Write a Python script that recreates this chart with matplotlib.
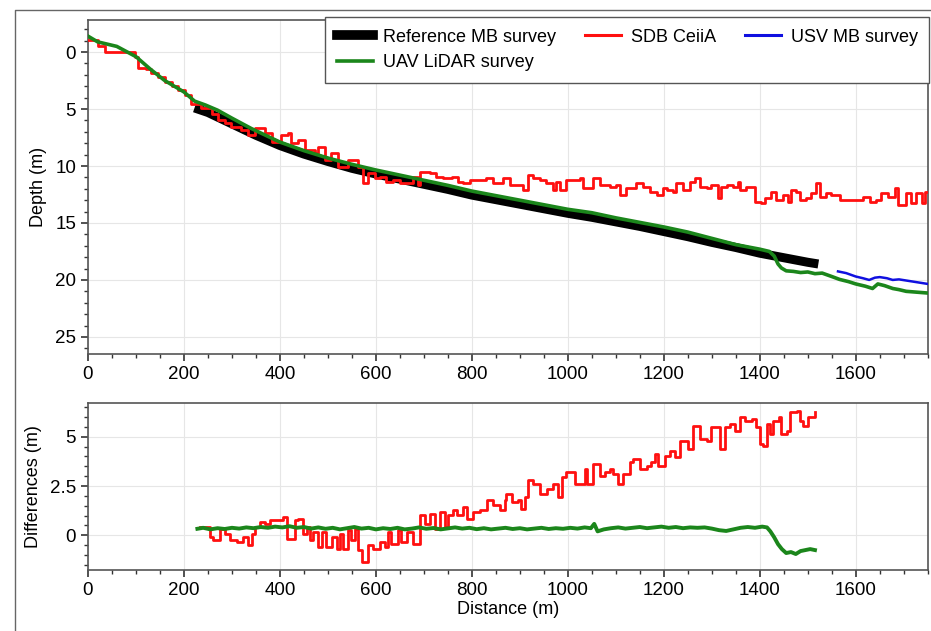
"""Depth profile comparison: reference MB vs SDB, USV and UAV LiDAR surveys."""
import matplotlib
matplotlib.use("Agg")
import matplotlib.pyplot as plt
from matplotlib import ticker
from matplotlib.lines import Line2D

plt.rcParams["font.family"] = ["Liberation Sans", "DejaVu Sans"]
plt.rcParams["font.size"] = 13

# ---- top panel: depth profiles (m) ----
ref_x = [222, 250, 300, 350, 400, 450, 500, 550, 600, 650, 700, 750, 800, 850,
         900, 950, 1000, 1050, 1100, 1150, 1200, 1250, 1300, 1350, 1400, 1450,
         1500, 1522]
ref_depth = [4.9, 5.3, 6.3, 7.3, 8.2, 8.95, 9.6, 10.2, 10.7, 11.15, 11.6, 12.05,
             12.55, 12.95, 13.35, 13.75, 14.15, 14.5, 14.9, 15.3, 15.75, 16.2,
             16.7, 17.15, 17.65, 18.05, 18.45, 18.6]

sdb_x = [0, 20, 35, 63, 98, 105, 120, 132, 145, 160, 175, 188, 202, 215, 235,
         258, 271, 285, 299, 318, 334, 348, 368, 383, 403, 417, 424, 438, 452,
         473, 480, 494, 507, 521, 542, 563, 573, 584, 598, 608, 622, 636, 650,
         664, 678, 688, 692, 712, 726, 740, 758, 771, 782, 796, 817, 830, 844,
         865, 879, 900, 907, 917, 928, 942, 955, 969, 976, 983, 997, 1025, 1032,
         1053, 1067, 1087, 1101, 1108, 1122, 1143, 1157, 1171, 1185, 1199, 1206,
         1219, 1226, 1240, 1254, 1265, 1275, 1289, 1299, 1313, 1320, 1331, 1344,
         1355, 1358, 1372, 1389, 1403, 1410, 1424, 1434, 1449, 1459, 1466, 1476,
         1483, 1497, 1507, 1518, 1525, 1539, 1549, 1567, 1584, 1601, 1615, 1629,
         1643, 1653, 1667, 1681, 1688, 1702, 1705, 1716, 1726, 1737, 1744, 1750]
sdb_depth = [-1.05, -0.5, -0.03, 0.0, 0.4, 1.4, 1.5, 1.87, 2.2, 2.6, 3.0, 3.3,
             3.8, 4.6, 4.95, 5.4, 6.0, 6.2, 6.55, 6.84, 7.28, 6.7, 7.13, 7.87,
             7.28, 7.13, 8.0, 7.72, 8.6, 8.9, 8.3, 9.47, 8.9, 10.06, 9.47, 10.06,
             11.5, 10.64, 11.08, 10.93, 11.37, 11.23, 11.52, 11.52, 10.93, 11.67,
             10.5, 10.64, 10.93, 11.08, 10.93, 11.37, 11.52, 11.23, 11.23, 11.08,
             11.52, 11.08, 11.67, 11.67, 12.1, 10.79, 11.08, 11.23, 11.52, 12.1,
             11.37, 12.1, 11.23, 11.08, 11.96, 11.08, 11.67, 11.81, 11.67, 12.54,
             11.96, 11.52, 11.81, 12.25, 12.54, 11.96, 12.1, 12.25, 11.52, 12.1,
             11.37, 11.08, 11.8, 11.95, 11.67, 12.84, 11.8, 11.67, 11.8, 11.37,
             12.1, 11.8, 13.13, 13.27, 12.84, 12.25, 12.98, 12.54, 13.13, 12.1,
             12.25, 12.98, 12.84, 12.4, 11.52, 12.7, 12.4, 12.54, 12.98, 12.98,
             12.98, 12.7, 13.13, 12.98, 12.4, 12.7, 11.95, 13.4, 13.4, 12.4,
             13.27, 12.4, 13.27, 12.25, 12.25]

usv_x = [1563, 1580, 1600, 1615, 1628, 1640, 1650, 1665, 1677, 1690, 1705, 1720,
         1735, 1750]
usv_depth = [19.25, 19.4, 19.7, 19.85, 20.0, 19.8, 19.75, 19.85, 20.0, 19.95,
             20.05, 20.15, 20.25, 20.35]

uav_x = [0, 20, 60, 100, 130, 160, 200, 222, 245, 270, 300, 340, 400, 450, 500,
         550, 600, 650, 700, 750, 800, 850, 900, 950, 1000, 1050, 1100, 1150,
         1200, 1250, 1300, 1350, 1400, 1420, 1430, 1438, 1445, 1455, 1470, 1485,
         1500, 1515, 1530, 1550, 1566, 1585, 1600, 1620, 1635, 1646, 1660, 1677,
         1690, 1705, 1720, 1735, 1750]
uav_depth = [-1.4, -0.9, -0.5, 0.4, 1.5, 2.5, 3.5, 4.3, 4.65, 5.1, 5.8, 6.7, 7.9,
             8.65, 9.3, 9.85, 10.35, 10.8, 11.25, 11.7, 12.2, 12.6, 13.0, 13.4,
             13.8, 14.1, 14.55, 14.95, 15.35, 15.8, 16.35, 16.9, 17.3, 17.5, 17.9,
             18.6, 18.95, 19.2, 19.25, 19.35, 19.3, 19.45, 19.4, 19.7, 19.95,
             20.15, 20.35, 20.55, 20.75, 20.35, 20.5, 20.75, 20.85, 21.0, 21.05,
             21.1, 21.15]

# ---- bottom panel: differences to reference (m) ----
sdb_diff_x = [233, 254, 261, 275, 285, 296, 310, 324, 334, 341, 348, 358, 369,
              379, 407, 414, 431, 438, 449, 456, 462, 469, 480, 487, 497, 508,
              518, 525, 532, 542, 549, 556, 563, 571, 584, 594, 608, 619, 626,
              632, 646, 653, 664, 678, 692, 702, 712, 723, 733, 744, 751, 761,
              768, 782, 789, 803, 817, 831, 844, 858, 869, 872, 883, 897, 903,
              910, 917, 928, 942, 956, 969, 980, 987, 997, 1004, 1015, 1025,
              1036, 1039, 1053, 1067, 1077, 1087, 1094, 1105, 1115, 1129, 1136,
              1150, 1164, 1174, 1181, 1188, 1202, 1212, 1223, 1233, 1244, 1251,
              1261, 1275, 1289, 1299, 1310, 1317, 1327, 1337, 1348, 1358, 1369,
              1383, 1393, 1400, 1407, 1414, 1421, 1428, 1439, 1445, 1456, 1463,
              1477, 1483, 1490, 1501, 1515]
sdb_diff = [0.42, -0.08, -0.25, 0.34, 0.08, -0.25, -0.34, -0.08, -0.51, 0.08,
            0.42, 0.67, 0.59, 0.76, 0.93, -0.17, 0.76, 0.84, 0.08, 0.42, -0.25,
            0.17, -0.59, 0.17, -0.59, -0.08, -0.67, 0.08, -0.67, 0.25, -0.25,
            0.34, -0.76, -1.35, -0.5, -0.67, -0.34, -0.59, 0.17, -0.42, 0.25,
            -0.34, 0.17, -0.42, 1.01, 0.59, 1.1, 0.34, 1.18, 0.42, 1.01, 1.26,
            1.01, 1.43, 0.84, 1.18, 1.26, 1.77, 1.52, 1.26, 1.77, 2.1, 1.69,
            1.77, 1.35, 1.94, 2.78, 2.61, 2.1, 2.36, 2.61, 1.94, 2.95, 3.2, 3.2,
            2.61, 2.61, 3.37, 2.61, 3.62, 3.03, 3.2, 3.37, 3.11, 2.61, 3.11,
            3.7, 3.87, 3.37, 3.54, 3.7, 4.12, 3.54, 4.04, 4.29, 3.96, 4.8, 4.8,
            4.38, 5.56, 4.88, 4.8, 5.47, 5.47, 4.38, 5.47, 5.64, 5.3, 5.98, 5.81,
            5.89, 5.47, 4.63, 4.55, 5.64, 5.13, 5.81, 5.98, 5.13, 5.3, 6.23,
            6.31, 5.81, 5.56, 5.98, 6.23]

uav_diff_x = [228, 240, 255, 270, 285, 300, 315, 330, 345, 360, 375, 390, 405,
              420, 435, 450, 465, 480, 495, 510, 525, 540, 555, 570, 585, 600,
              615, 630, 645, 660, 675, 690, 705, 720, 735, 750, 765, 780, 795,
              810, 825, 840, 855, 870, 885, 900, 915, 930, 945, 960, 975, 990,
              1005, 1020, 1035, 1048, 1055, 1062, 1075, 1090, 1105, 1120, 1135,
              1150, 1165, 1180, 1195, 1210, 1225, 1240, 1255, 1270, 1285, 1300,
              1315, 1330, 1345, 1360, 1375, 1390, 1405, 1415, 1422, 1430, 1438,
              1446, 1455, 1465, 1475, 1485, 1495, 1505, 1515]
uav_diff = [0.33, 0.38, 0.30, 0.36, 0.32, 0.38, 0.34, 0.40, 0.36, 0.42, 0.38,
            0.44, 0.40, 0.46, 0.38, 0.42, 0.34, 0.40, 0.33, 0.38, 0.30, 0.36,
            0.42, 0.34, 0.38, 0.30, 0.36, 0.32, 0.38, 0.30, 0.34, 0.40, 0.33,
            0.37, 0.30, 0.35, 0.40, 0.34, 0.38, 0.31, 0.36, 0.30, 0.34, 0.38,
            0.32, 0.36, 0.30, 0.34, 0.38, 0.32, 0.36, 0.33, 0.38, 0.34, 0.40,
            0.36, 0.58, 0.20, 0.30, 0.36, 0.40, 0.34, 0.38, 0.42, 0.36, 0.40,
            0.44, 0.38, 0.42, 0.36, 0.40, 0.38, 0.40, 0.34, 0.26, 0.22, 0.30,
            0.38, 0.42, 0.38, 0.44, 0.40, 0.20, -0.10, -0.45, -0.70, -0.90,
            -0.85, -0.95, -0.80, -0.75, -0.70, -0.75]

RED = "#ff1010"
GREEN = "#1b861b"
BLUE = "#1010e0"

fig = plt.figure(figsize=(9.31, 6.31), dpi=100)
ax1 = fig.add_axes([0.0945, 0.439, 0.902, 0.529])
ax2 = fig.add_axes([0.0945, 0.097, 0.902, 0.264])

# thin frame line around the figure (left and top only are visible)
fig.add_artist(Line2D([15 / 931, 15 / 931, 1.0], [0.0, 1 - 10 / 631, 1 - 10 / 631],
                      transform=fig.transFigure, color="#666666", lw=1.0))

ax1.plot(ref_x, ref_depth, color="black", lw=6.5, solid_capstyle="butt", zorder=2)
ax1.plot(sdb_x, sdb_depth, color=RED, lw=2.0, drawstyle="steps-post", zorder=3)
ax1.plot(usv_x, usv_depth, color=BLUE, lw=1.8, zorder=3)
ax1.plot(uav_x, uav_depth, color=GREEN, lw=2.6, zorder=4)

ax2.plot(sdb_diff_x, sdb_diff, color=RED, lw=2.0, drawstyle="steps-post", zorder=3)
ax2.plot(uav_diff_x, uav_diff, color=GREEN, lw=2.8, zorder=4)

ax1.set_xlim(0, 1750)
ax1.set_ylim(26.5, -2.8)
ax1.set_yticks([0, 5, 10, 15, 20, 25])
ax1.yaxis.set_minor_locator(ticker.MultipleLocator(1))
ax1.set_ylabel("Depth (m)", fontsize=13, labelpad=6)

ax2.set_xlim(0, 1750)
ax2.set_ylim(-1.75, 6.7)
ax2.set_yticks([0, 2.5, 5])
ax2.yaxis.set_major_formatter(ticker.FormatStrFormatter("%g"))
ax2.yaxis.set_minor_locator(ticker.MultipleLocator(0.5))
ax2.set_ylabel("Differences (m)", fontsize=13, labelpad=6)
ax2.set_xlabel("Distance (m)", fontsize=13, labelpad=2)

for ax in (ax1, ax2):
    ax.set_xticks(range(0, 1601, 200))
    ax.xaxis.set_minor_locator(ticker.MultipleLocator(50))
    ax.grid(True, which="major", color="#e6e6e6", lw=0.8, zorder=0)
    ax.tick_params(which="major", direction="out", length=5, width=1.2,
                   color="#333333", labelsize=13.5, top=False, right=False)
    ax.tick_params(which="minor", direction="out", length=3, width=1.0,
                   color="#333333", top=False, right=False)
    for s in ax.spines.values():
        s.set_color("#555555")
        s.set_linewidth(1.2)

handles = [
    Line2D([], [], color="black", lw=7),
    Line2D([], [], color=GREEN, lw=2.6),
    Line2D([], [], color=RED, lw=2.2),
    Line2D([], [], color=BLUE, lw=2.2),
]
labels = ["Reference MB survey", "UAV LiDAR survey", "SDB CeiiA", "USV MB survey"]
leg = fig.legend(handles, labels, ncol=3, loc="upper left",
                 bbox_to_anchor=(325 / 931, 1 - 17 / 631), fontsize=13,
                 frameon=True, fancybox=False, edgecolor="#555555",
                 framealpha=1.0, borderpad=0.65, handlelength=2.0,
                 handletextpad=0.55, columnspacing=1.6, labelspacing=0.45,
                 borderaxespad=0)
leg.get_frame().set_linewidth(1.0)

fig.savefig("out.png", dpi=100)
